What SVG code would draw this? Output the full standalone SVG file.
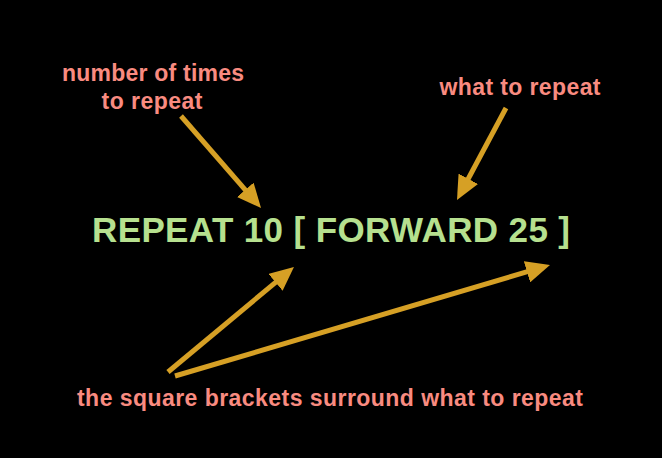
<svg xmlns="http://www.w3.org/2000/svg" width="662" height="458" viewBox="0 0 662 458">
<style>
.lbl{font-family:"Liberation Sans",Arial,sans-serif;font-weight:bold;font-size:23px;fill:#f98b80;text-anchor:middle}
.code{font-family:"Liberation Sans",Arial,sans-serif;font-weight:bold;font-size:35px;fill:#b6e08f;text-anchor:middle}
.arr{stroke:#d6a025;stroke-width:5;fill:none;marker-end:url(#head)}
</style>
<defs>
<marker id="head" viewBox="0 0 24 22" refX="4" refY="11" markerWidth="24" markerHeight="22" markerUnits="userSpaceOnUse" orient="auto">
<path d="M0,0 L24,11 L0,22 z" fill="#d6a025"/>
</marker>
</defs>
<rect width="662" height="458" fill="#000"/>
<g id="code"><text class="code" x="331" y="242" textLength="478" lengthAdjust="spacing">REPEAT 10 [ FORWARD 25 ]</text></g>
<g id="times-label"><text class="lbl" x="153" y="81" textLength="182" lengthAdjust="spacing">number of times</text><text class="lbl" x="152" y="109" textLength="101" lengthAdjust="spacing">to repeat</text></g>
<g id="what-label"><text class="lbl" x="520" y="95" textLength="161" lengthAdjust="spacing">what to repeat</text></g>
<g id="brackets-label"><text class="lbl" x="330" y="406" textLength="506" lengthAdjust="spacing">the square brackets surround what to repeat</text></g>
<g id="connectors">
<line class="arr" x1="181" y1="116" x2="247.9" y2="192.9"/>
<line class="arr" x1="506" y1="108" x2="466.4" y2="182.3"/>
<line class="arr" x1="168" y1="372" x2="278.6" y2="279.8"/>
<line class="arr" x1="175" y1="376" x2="530.8" y2="270.7"/>
</g>
</svg>
